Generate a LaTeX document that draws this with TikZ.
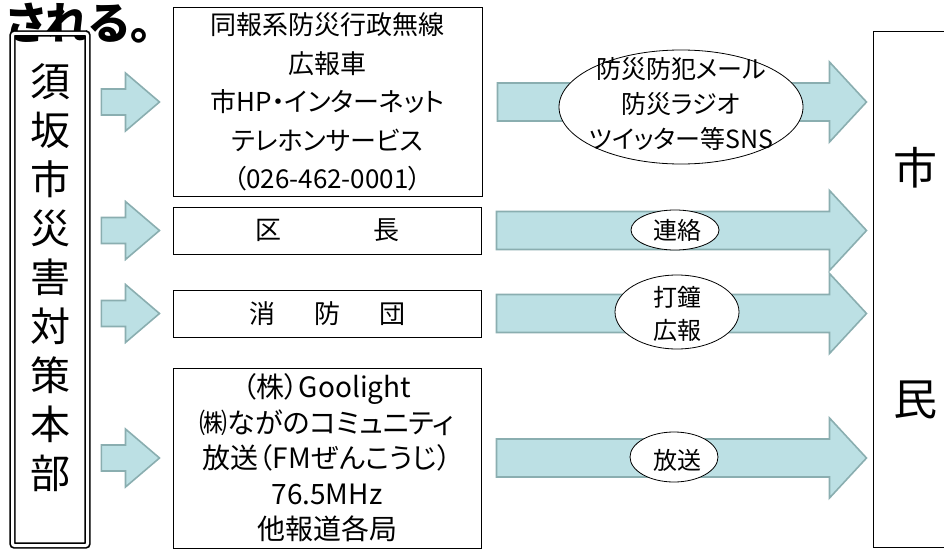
\documentclass[tikz,border=0pt]{standalone}
\usepackage{fontspec}
\setmainfont{Noto Sans CJK JP}[RawFeature=+palt]
\usetikzlibrary{calc}
\definecolor{sbArrowFill}{RGB}{188,224,228}
\definecolor{sbArrowLine}{RGB}{138,174,176}
% block arrow: start, tip, shaft half-height, head half-height, head length
\newcommand{\sbBlockArrow}[5]{%
  \path[blockarrow] let \p1=(#1), \p2=(#2) in
    (\x1,\y2+#3pt) -- (\x2-#5pt,\y2+#3pt) -- (\x2-#5pt,\y2+#4pt) -- (\x2,\y2)
    -- (\x2-#5pt,\y2-#4pt) -- (\x2-#5pt,\y2-#3pt) -- (\x1,\y2-#3pt) -- cycle;}
\begin{document}
\begin{tikzpicture}[x=1pt, y=-1pt, line join=miter,
  infobox/.style={draw=black, line width=1pt, fill=white, align=center, inner sep=0pt},
  blockarrow/.style={fill=sbArrowFill, draw=sbArrowLine, line width=1.6pt},
  bubble/.style={draw=black, line width=0.8pt, fill=white},
  bubbletext/.style={align=center, inner sep=0pt}]
\useasboundingbox (0,0) rectangle (944,551);
% Heading cut off at the top edge
\node[anchor=east, inner sep=0pt, font=\fontsize{44}{44}\bfseries\selectfont] (head) at (152,23) {される。};
% Headquarters: double frame and vertical name
\node[draw=black, double=white, double distance=3pt, line width=1.7pt, rounded corners=2pt,
  minimum width=75pt, minimum height=512pt, inner sep=0pt] (hq) at (50,289.5) {};
\node[align=center, inner sep=0pt, font=\fontsize{40}{49}\selectfont] (hqname) at (50,278)
  {須\\坂\\市\\災\\害\\対\\策\\本\\部};
% Channels
\node[infobox, minimum width=309pt, minimum height=188pt, font=\fontsize{26}{38.5}\selectfont] (b1) at (327.5,102)
  {同報系防災行政無線\\広報車\\市HP・インターネット\\テレホンサービス\\（026-462-0001）};
\node[infobox, minimum width=308pt, minimum height=47pt, font=\fontsize{26}{30}\selectfont] (b2) at (327,230.5)
  {区\hspace{92pt}長};
\node[infobox, minimum width=308pt, minimum height=47pt, font=\fontsize{26}{30}\selectfont] (b3) at (327,313.5)
  {消\hspace{39pt}防\hspace{39pt}団};
\node[infobox, minimum width=308pt, minimum height=180pt, font=\fontsize{28}{35.5}\selectfont] (b4) at (327,458)
  {（株）Goolight\\㈱ながのコミュニティ\\放送（FMぜんこうじ）\\76.5MHz\\他報道各局};
% Citizens
\node[draw=black, line width=1pt, minimum width=117pt, minimum height=515pt, inner sep=0pt] (cz) at (931.5,289.5) {};
\node[inner sep=0pt, font=\fontsize{44}{44}\selectfont] (cz1) at (915,168) {市};
\node[inner sep=0pt, font=\fontsize{44}{44}\selectfont] (cz2) at (915,400) {民};
% Small arrows from headquarters
\foreach \b in {b1,b2,b3,b4} {
  \coordinate (s-\b) at ($(hq.east |- \b.west)+(13,0)$);
  \coordinate (t-\b) at ($(\b.west)+(-13,0)$);
  \sbBlockArrow{s-\b}{t-\b}{13}{29}{34}
}
% Large arrows to citizens
\foreach \b in {b1,b2,b3,b4} {
  \coordinate (u-\b) at ($(\b.east)+(15,0)$);
  \coordinate (v-\b) at ($(cz.west |- \b.east)+(-6,0)$);
  \sbBlockArrow{u-\b}{v-\b}{19}{40}{37}
}
% Bubbles on the large arrows
\draw[bubble] (681,107) ellipse [x radius=122, y radius=57];
\node[bubbletext, font=\fontsize{25}{35}\selectfont] (m1) at (681,104) {防災防犯メール\\防災ラジオ\\ツイッター等SNS};
\draw[bubble] (675,230) ellipse [x radius=44, y radius=20];
\node[bubbletext, font=\fontsize{24}{24}\selectfont] (m2) at (677,230) {連絡};
\draw[bubble] (677,312) ellipse [x radius=62, y radius=37];
\node[bubbletext, font=\fontsize{24}{33}\selectfont] (m3) at (677,314) {打鐘\\広報};
\draw[bubble] (674,457) ellipse [x radius=44, y radius=25];
\node[bubbletext, font=\fontsize{24}{24}\selectfont] (m4) at (677,460) {放送};
\end{tikzpicture}
\end{document}
